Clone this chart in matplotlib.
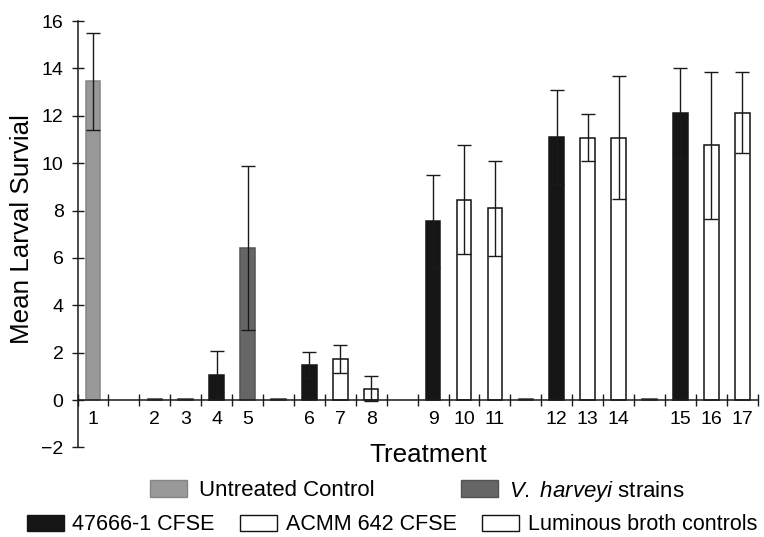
import matplotlib
matplotlib.use('Agg')
import matplotlib.pyplot as plt
import numpy as np
from matplotlib.patches import Patch

plt.rcParams['font.family'] = ['Liberation Sans', 'DejaVu Sans']
plt.rcParams['mathtext.fontset'] = 'custom'
plt.rcParams['mathtext.rm'] = 'Liberation Sans'
plt.rcParams['mathtext.it'] = 'Liberation Sans:italic'

# ---- data ----
slot_labels = ['1', '', '2', '3', '4', '5', '', '6', '7', '8', '', '9', '10', '11',
               '', '12', '13', '14', '', '15', '16', '17']
means = [13.45, np.nan, 0.06, 0.06, 1.07, 6.43, 0.06, 1.48, 1.74, 0.47, np.nan,
         7.54, 8.45, 8.10, 0.06, 11.10, 11.07, 11.07, 0.06, 12.11, 10.76, 12.13]
errors = [2.05, 0, 0, 0, 1.02, 3.46, 0, 0.56, 0.59, 0.53, 0,
          1.97, 2.30, 2.00, 0, 2.00, 1.00, 2.60, 0, 1.92, 3.10, 1.70]
groups = ['untreated', 'none', 'tiny', 'tiny', 'cfse47666', 'vharveyi', 'tiny',
          'cfse47666', 'acmm642', 'luminous', 'none', 'cfse47666', 'acmm642',
          'luminous', 'tiny', 'cfse47666', 'acmm642', 'luminous', 'tiny',
          'cfse47666', 'acmm642', 'luminous']
legend_keys = ['untreated', 'vharveyi', 'cfse47666', 'acmm642', 'luminous']
legend_labels = ['Untreated Control', r'$\mathit{V.\ harveyi}$ strains',
                 '47666-1 CFSE', 'ACMM 642 CFSE', 'Luminous broth controls']
yticks = [-2, 0, 2, 4, 6, 8, 10, 12, 14, 16]

# ---- style ----
face = {'untreated': '#999999', 'vharveyi': '#666666', 'cfse47666': '#161616',
        'acmm642': '#ffffff', 'luminous': '#ffffff', 'tiny': '#3a3a3a'}
edge = {'untreated': '#858585', 'vharveyi': '#545454', 'cfse47666': '#161616',
        'acmm642': '#111111', 'luminous': '#111111', 'tiny': '#3a3a3a'}

fig = plt.figure(figsize=(7.64, 5.37), dpi=100)
ax = fig.add_axes([77.5 / 764, 1 - 447.4 / 537, 680.2 / 764, 426.4 / 537])

x = np.arange(len(slot_labels))
for xi, m, g in zip(x, means, groups):
    if g == 'none' or np.isnan(m):
        continue
    ax.bar(xi, m, width=0.47, color=face[g], edgecolor=edge[g], linewidth=1.1, zorder=2)

ex = [xi for xi, e in zip(x, errors) if e > 0]
em = [m for m, e in zip(means, errors) if e > 0]
ee = [e for e in errors if e > 0]
ax.errorbar(ex, em, yerr=ee, fmt='none', ecolor='#1a1a1a', elinewidth=1.0,
            capsize=5, capthick=1.0, zorder=3)

ax.set_xlim(-0.5, len(slot_labels) - 0.5)
ax.set_ylim(-2, 16)
for s in ['top', 'right']:
    ax.spines[s].set_visible(False)
ax.spines['bottom'].set_position(('data', 0))
ax.spines['left'].set_linewidth(1.1)
ax.spines['bottom'].set_linewidth(1.1)
ax.spines['left'].set_color('#1a1a1a')
ax.spines['bottom'].set_color('#1a1a1a')

ax.set_yticks(yticks)
ax.set_yticklabels([('\u2212' + str(-t)) if t < 0 else str(t) for t in yticks])
ax.tick_params(axis='y', direction='inout', length=8, width=1.0, pad=6,
               labelsize=14, color='#1a1a1a')

ax.set_xticks(x)
ax.set_xticklabels(slot_labels)
ax.set_xticks(np.arange(-0.5, len(slot_labels)), minor=True)
ax.tick_params(axis='x', which='major', length=0, pad=8, labelsize=14)
ax.tick_params(axis='x', which='minor', direction='inout', length=9, width=1.0,
               color='#1a1a1a')

ax.set_ylabel('Mean Larval Survial', fontsize=18.7)
ax.yaxis.label.set_va('center')
ax.yaxis.set_label_coords((22 - 77.5) / 680.2, (447.4 - 229) / 426.4)
ax.set_xlabel('Treatment', fontsize=18.7)
ax.xaxis.label.set_va('center')
ax.xaxis.set_label_coords((428 - 77.5) / 680.2, (447.4 - 455) / 426.4)

handles = [Patch(facecolor=face[k], edgecolor=edge[k], linewidth=1.0) for k in legend_keys]

leg1 = fig.legend(handles[:2], legend_labels[:2], loc='center', ncol=2,
                  bbox_to_anchor=(417.5 / 764, 1 - 491 / 537), frameon=False,
                  fontsize=16, handlelength=1.67, handleheight=0.77,
                  handletextpad=0.5, columnspacing=3.9, borderpad=0.1)
leg2 = fig.legend(handles[2:], legend_labels[2:], loc='center', ncol=3,
                  bbox_to_anchor=(392 / 764, 1 - 525 / 537), frameon=False,
                  fontsize=15.5, handlelength=1.7, handleheight=0.78,
                  handletextpad=0.4, columnspacing=1.2, borderpad=0.1)

fig.savefig('out.png', dpi=100)
